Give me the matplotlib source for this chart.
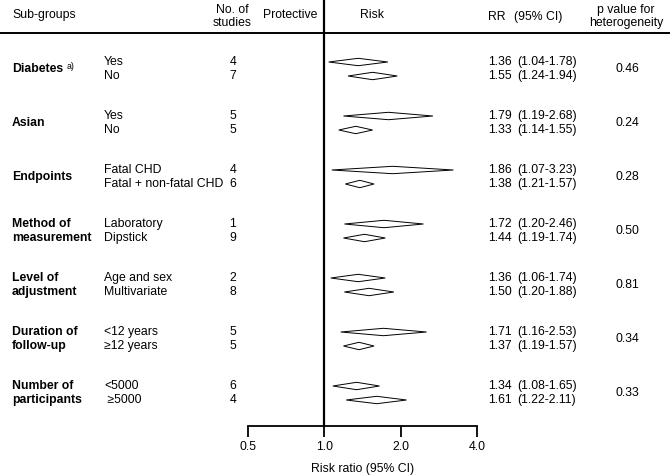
import matplotlib
matplotlib.use("Agg")
import matplotlib.pyplot as plt
from matplotlib.patches import Polygon

plt.rcParams["font.family"] = ["Liberation Sans", "DejaVu Sans"]

# ---------------------------------------------------------------------------
# Data
# ---------------------------------------------------------------------------

groups = [
    "Diabetes",
    "Asian",
    "Endpoints",
    "Method of\nmeasurement",
    "Level of\nadjustment",
    "Duration of\nfollow-up",
    "Number of\nparticipants",
]
subgroups = [
    "Yes", "No",
    "Yes", "No",
    "Fatal CHD", "Fatal + non-fatal CHD",
    "Laboratory", "Dipstick",
    "Age and sex", "Multivariate",
    "<12 years", "\u226512 years",
    "<5000", " \u22655000",
]
n_studies = [4, 7, 5, 5, 4, 6, 1, 9, 2, 8, 5, 5, 6, 4]
rr = [1.36, 1.55, 1.79, 1.33, 1.86, 1.38, 1.72, 1.44, 1.36, 1.50, 1.71, 1.37, 1.34, 1.61]
ci_low = [1.04, 1.24, 1.19, 1.14, 1.07, 1.21, 1.20, 1.19, 1.06, 1.20, 1.16, 1.19, 1.08, 1.22]
ci_high = [1.78, 1.94, 2.68, 1.55, 3.23, 1.57, 2.46, 1.74, 1.74, 1.88, 2.53, 1.57, 1.65, 2.11]
p_het = ["0.46", "0.24", "0.28", "0.50", "0.81", "0.34", "0.33"]
x_ticks = [0.5, 1.0, 2.0, 4.0]
x_tick_labels = ["0.5", "1.0", "2.0", "4.0"]

# ---------------------------------------------------------------------------
# Layout (pixel units of a 670 x 475 canvas)
# ---------------------------------------------------------------------------

W, H = 670, 475
FS = 8.8
FIRST_ROW = 62
GROUP_STEP = 54
ROW_STEP = 14
AXIS_Y = 426
PLOT_LEFT, PLOT_RIGHT = 248, 477
HALF_H = 3.7


def row_y(i):
    return FIRST_ROW + GROUP_STEP * (i // 2) + ROW_STEP * (i % 2)


fig = plt.figure(figsize=(W / 100, H / 100), dpi=100)
bg = fig.add_axes([0, 0, 1, 1])
bg.set_xlim(0, W)
bg.set_ylim(H, 0)
bg.axis("off")

# header
bg.axhline(33, color="black", lw=1.4)
bg.text(12, 15, "Sub-groups", fontsize=FS, va="center", ha="left")
bg.text(232, 10, "No. of", fontsize=FS, va="center", ha="center")
bg.text(232, 23, "studies", fontsize=FS, va="center", ha="center")
bg.text(290, 15, "Protective", fontsize=FS, va="center", ha="center")
bg.text(372, 15, "Risk", fontsize=FS, va="center", ha="center")
bg.text(488, 17, "RR", fontsize=FS, va="center", ha="left")
bg.text(514, 17, "(95% CI)", fontsize=FS, va="center", ha="left")
bg.text(626, 10, "p value for", fontsize=FS, va="center", ha="center")
bg.text(626, 23, "heterogeneity", fontsize=FS, va="center", ha="center")

# group labels and p values
for g, label in enumerate(groups):
    y0 = row_y(2 * g)
    y1 = row_y(2 * g + 1)
    lines = label.split("\n")
    if len(lines) == 1:
        t = bg.text(12, (y0 + y1) / 2, label, fontsize=FS, fontweight="bold",
                    va="center", ha="left")
        if g == 0:
            bg.annotate("a)", xy=(1, 0.5), xycoords=t, xytext=(2.5, -1.5),
                        textcoords="offset points", fontsize=6.3, va="bottom")
    else:
        bg.text(12, y0, lines[0], fontsize=FS, fontweight="bold", va="center", ha="left")
        bg.text(12, y1, lines[1], fontsize=FS, fontweight="bold", va="center", ha="left")
    bg.text(627, (y0 + y1) / 2, p_het[g], fontsize=FS, va="center", ha="center")

# rows
for i, label in enumerate(subgroups):
    y = row_y(i)
    bg.text(104, y, label, fontsize=FS, va="center", ha="left")
    bg.text(233, y, str(n_studies[i]), fontsize=FS, va="center", ha="center")
    bg.text(488, y, f"{rr[i]:.2f}", fontsize=FS, va="center", ha="left")
    bg.text(517, y, f"({ci_low[i]:.2f}-{ci_high[i]:.2f})", fontsize=FS,
            va="center", ha="left")

# forest panel with log-scaled risk ratio axis
ax = fig.add_axes([PLOT_LEFT / W, (H - AXIS_Y) / H,
                   (PLOT_RIGHT - PLOT_LEFT) / W, AXIS_Y / H])
ax.patch.set_visible(False)
ax.set_xscale("log")
ax.set_xlim(x_ticks[0], x_ticks[-1])
ax.set_ylim(AXIS_Y, 0)
for side in ["left", "right", "top"]:
    ax.spines[side].set_visible(False)
ax.spines["bottom"].set_linewidth(1.3)
ax.set_yticks([])
ax.minorticks_off()
ax.set_xticks(x_ticks)
ax.set_xticklabels(x_tick_labels, fontsize=FS)
ax.tick_params(axis="x", direction="out", length=8, width=1.3, pad=3)
ax.set_xlabel("Risk ratio (95% CI)", fontsize=FS, labelpad=7)
ax.axvline(1.0, color="black", lw=1.6, clip_on=False)

for i in range(len(rr)):
    y = row_y(i)
    diamond = Polygon(
        [(ci_low[i], y), (rr[i], y - HALF_H), (ci_high[i], y), (rr[i], y + HALF_H)],
        closed=True, facecolor="white", edgecolor="black", lw=0.7,
    )
    ax.add_patch(diamond)

fig.savefig("out.png", dpi=100, facecolor="white")
